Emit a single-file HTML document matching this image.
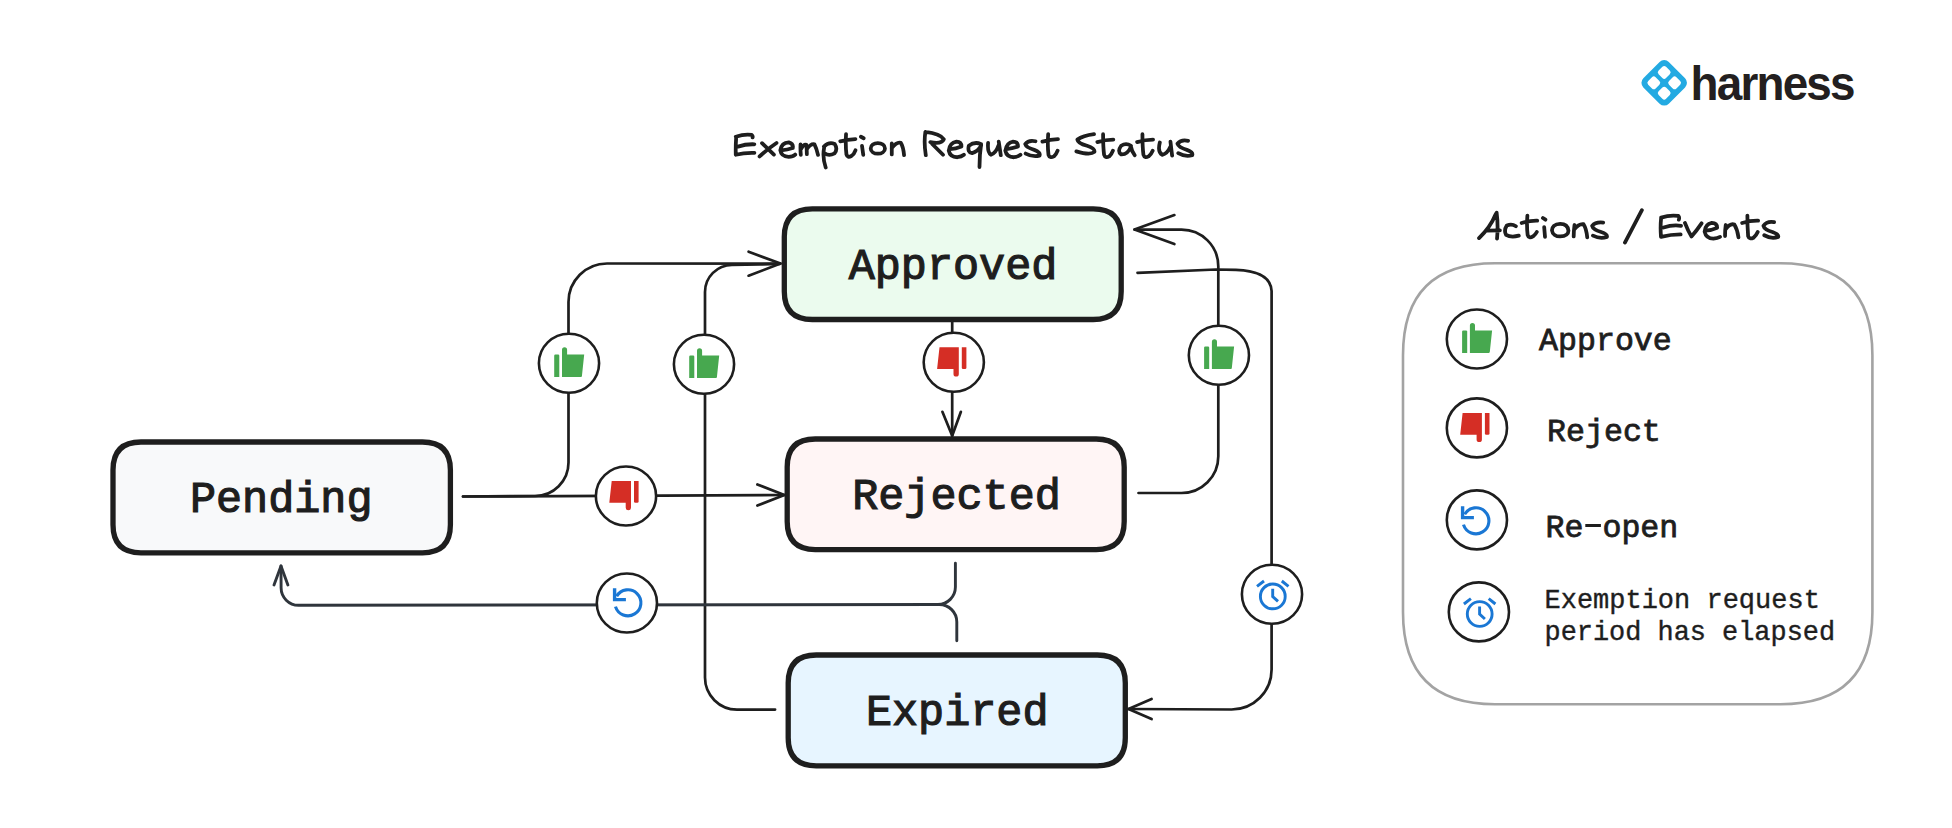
<!DOCTYPE html>
<html><head><meta charset="utf-8">
<style>
html,body{margin:0;padding:0;background:#fff;}
body{width:1952px;height:828px;overflow:hidden;}
svg{display:block;}
.mono{font-family:"Liberation Mono",monospace;}
.sans{font-family:"Liberation Sans",sans-serif;}
</style></head>
<body>
<svg width="1952" height="828" viewBox="0 0 1952 828">
<defs>
  <g id="up"><path d="M-14.8 -7.4 Q-14.8 -8.6 -13.6 -8.6 L-10.9 -8.6 Q-9.7 -8.6 -9.7 -7.4 L-9.7 13.9 L-14.8 13.9 Z"/><path d="M-7 13.9 L-7 -13.5 Q-7 -16 -4.45 -16 Q-1.9 -16 -1.9 -13.5 L-1.9 -8.6 L15.2 -8.6 L12.9 13.1 Q12.8 13.9 12 13.9 Z"/></g>
  <g id="down"><path d="M8 -15 L12.6 -15 L12.6 5.5 Q12.6 6.8 11.3 6.8 L9.3 6.8 Q8 6.8 8 5.5 Z"/><path d="M-14.3 -15 L5 -15 L5 11.6 Q5 14.2 2.35 14.2 Q-0.3 14.2 -0.3 11.6 L-0.3 6.8 L-16.7 6.8 Z"/></g>
  <g id="reopen"><path d="M-11.2 -6.6 A13 13 0 1 1 -12.42 3.83" fill="none" stroke-width="3.1"/><path d="M-15 -14.5 L-11.6 -14.5 L-11.6 -4.9 L-2 -4.9 L-2 -1.5 L-15 -1.5 Z" fill="#1a77d4" stroke="none"/></g>
  <g id="alarm" fill="none" stroke-width="2.9"><circle cx="0.8" cy="2.1" r="12.4"/><path d="M0.7 -5.5 L0.7 2.2 L6 7.1"/><path d="M-15 -7.9 L-8 -13.3 M9.8 -13.3 L16.5 -7.9"/></g>
</defs>
<!-- boxes -->
<path d="M141.0 442.0 L422.4 442.0 Q450.4 442.0 450.4 470.0 L450.4 524.8 Q450.4 552.8 422.4 552.8 L141.0 552.8 Q113.0 552.8 113.0 524.8 L113.0 470.0 Q113.0 442.0 141.0 442.0 Z" fill="#f8f9fa" stroke="#1e1e1e" stroke-width="5.3"/>
<path d="M812.3 208.8 L1093.2 208.8 Q1121.2 208.8 1121.2 236.8 L1121.2 291.5 Q1121.2 319.5 1093.2 319.5 L812.3 319.5 Q784.3 319.5 784.3 291.5 L784.3 236.8 Q784.3 208.8 812.3 208.8 Z" fill="#ebfbee" stroke="#1e1e1e" stroke-width="5.3"/>
<path d="M815.2 439.0 L1096.2 439.0 Q1124.2 439.0 1124.2 467.0 L1124.2 521.6 Q1124.2 549.6 1096.2 549.6 L815.2 549.6 Q787.2 549.6 787.2 521.6 L787.2 467.0 Q787.2 439.0 815.2 439.0 Z" fill="#fff5f5" stroke="#1e1e1e" stroke-width="5.3"/>
<path d="M816.2 655.0 L1097.3 655.0 Q1125.3 655.0 1125.3 683.0 L1125.3 737.8 Q1125.3 765.8 1097.3 765.8 L816.2 765.8 Q788.2 765.8 788.2 737.8 L788.2 683.0 Q788.2 655.0 816.2 655.0 Z" fill="#e7f5ff" stroke="#1e1e1e" stroke-width="5.3"/>
<path d="M1495.0 263.3 L1780.4 263.3 Q1872.4 263.3 1872.4 355.3 L1872.4 612.2 Q1872.4 704.2 1780.4 704.2 L1495.0 704.2 Q1403.0 704.2 1403.0 612.2 L1403.0 355.3 Q1403.0 263.3 1495.0 263.3 Z" fill="none" stroke="#a3a3a3" stroke-width="2.6"/>

<!-- lines -->
<g fill="none" stroke="#1e1e1e" stroke-width="2.7" stroke-linecap="round" stroke-linejoin="round">
  <path d="M463 496.5 L535 496 A33.5 33.5 0 0 0 568.5 462.5 L568.5 302 A38.5 38.5 0 0 1 607 263.5 L780.5 263.6"/>
  <path d="M748.6 251.7 L780.5 263.6 L748.6 275.7"/>
  <path d="M463 496.5 L784.4 495"/>
  <path d="M757.4 484.5 L784.4 495 L757.4 505.6"/>
  <path d="M775.1 709.6 L737 709.6 A32 32 0 0 1 705 677.6 L705 292 A27 27 0 0 1 732 265 L760 264.5 L780 263.8"/>
  <path d="M952.2 321 L952.2 435.7"/>
  <path d="M942.4 411.8 L952.2 435.7 L960.9 411.8"/>
  <path d="M1138.5 493 L1181.5 493 A36.8 36.8 0 0 0 1218.3 456.2 L1218.3 266.4 A36.8 36.8 0 0 0 1181.5 229.6 L1134.5 229.6"/>
  <path d="M1174.4 215.1 L1134.5 229.6 L1174.4 244.1"/>
  <path d="M1137.5 272.8 L1216 269.5 L1236 269.8 Q1270.5 271 1271.6 291 L1271.6 669.5 A40 40 0 0 1 1231.6 709.5 L1128.5 709"/>
  <path d="M1151.6 699 L1128.5 709 L1151.6 719.1"/>
</g>
<g fill="none" stroke="#2f353c" stroke-width="2.9" stroke-linecap="round" stroke-linejoin="round">
  <path d="M955.4 563.2 L955.4 587 A17.5 17.5 0 0 1 937.9 604.5 L298.6 605.3 A17.5 17.5 0 0 1 281.1 587.8 L281 566"/>
  <path d="M956.8 640.7 L956.8 622 A17.5 17.5 0 0 0 939.3 604.5"/>
  <path d="M274 585 L281 566 L287.9 585"/>
</g>
<!-- circles -->
<g fill="#fff" stroke="#1e1e1e" stroke-width="2.6">
  <ellipse cx="569" cy="363.2" rx="30.1" ry="29.5"/>
  <ellipse cx="704" cy="364.2" rx="30.1" ry="29.5"/>
  <ellipse cx="953.8" cy="362.3" rx="30.1" ry="29.5"/>
  <ellipse cx="1218.9" cy="355.2" rx="30.1" ry="29.5"/>
  <ellipse cx="626" cy="496" rx="30.1" ry="29.5"/>
  <ellipse cx="626.9" cy="603" rx="30.1" ry="29.5"/>
  <ellipse cx="1272" cy="594.3" rx="30.1" ry="29.5"/>
  <ellipse cx="1476.9" cy="339" rx="30.1" ry="29.5"/>
  <ellipse cx="1476.9" cy="427.9" rx="30.1" ry="29.5"/>
  <ellipse cx="1476.9" cy="519.9" rx="30.1" ry="29.5"/>
  <ellipse cx="1478.9" cy="611.9" rx="30.1" ry="29.5"/>
</g>
<!-- icons -->
<g fill="#47a84f">
  <use href="#up" x="569" y="363.2"/>
  <use href="#up" x="704" y="364.2"/>
  <use href="#up" x="1218.9" y="355.2"/>
  <use href="#up" x="1476.9" y="339"/>
</g>
<g fill="#d52e25">
  <use href="#down" x="953.8" y="362.3"/>
  <use href="#down" x="626" y="496"/>
  <use href="#down" x="1476.9" y="427.9"/>
</g>

<g stroke="#1a77d4">
  <use href="#reopen" x="627.9" y="602.8"/>
  <use href="#reopen" x="1475.9" y="520.8"/>
  <use href="#alarm" x="1272" y="594.3"/>
  <use href="#alarm" x="1478.9" y="611.9"/>
</g>
<!-- harness logo -->
<g transform="translate(1664.2 82.8) rotate(45)" fill="#23aae2"><path fill-rule="evenodd" d="M-11.50 -18.00 L11.50 -18.00 A6.5 6.5 0 0 1 18.00 -11.50 L18.00 11.50 A6.5 6.5 0 0 1 11.50 18.00 L-11.50 18.00 A6.5 6.5 0 0 1 -18.00 11.50 L-18.00 -11.50 A6.5 6.5 0 0 1 -11.50 -18.00 Z M-10.00 -12.60 L-4.70 -12.60 A2.6 2.6 0 0 1 -2.10 -10.00 L-2.10 -4.70 A2.6 2.6 0 0 1 -4.70 -2.10 L-10.00 -2.10 A2.6 2.6 0 0 1 -12.60 -4.70 L-12.60 -10.00 A2.6 2.6 0 0 1 -10.00 -12.60 Z M-10.00 2.10 L-4.70 2.10 A2.6 2.6 0 0 1 -2.10 4.70 L-2.10 10.00 A2.6 2.6 0 0 1 -4.70 12.60 L-10.00 12.60 A2.6 2.6 0 0 1 -12.60 10.00 L-12.60 4.70 A2.6 2.6 0 0 1 -10.00 2.10 Z M4.70 -12.60 L10.00 -12.60 A2.6 2.6 0 0 1 12.60 -10.00 L12.60 -4.70 A2.6 2.6 0 0 1 10.00 -2.10 L4.70 -2.10 A2.6 2.6 0 0 1 2.10 -4.70 L2.10 -10.00 A2.6 2.6 0 0 1 4.70 -12.60 Z M4.70 2.10 L10.00 2.10 A2.6 2.6 0 0 1 12.60 4.70 L12.60 10.00 A2.6 2.6 0 0 1 10.00 12.60 L4.70 12.60 A2.6 2.6 0 0 1 2.10 10.00 L2.10 4.70 A2.6 2.6 0 0 1 4.70 2.10 Z"/></g>
<!-- texts -->
<g class="mono" fill="#1e1e1e" font-size="43.9" stroke="#1e1e1e" stroke-width="1.2" text-anchor="middle">
  <text transform="translate(281.2 512) scale(0.99 1.02)">Pending</text>
  <text transform="translate(953 279) scale(0.99 1.02)">Approved</text>
  <text transform="translate(956.5 509) scale(0.99 1.02)">Rejected</text>
  <text transform="translate(957.2 725) scale(0.99 1.02)">Expired</text>
</g>
<g class="mono" fill="#1e1e1e" stroke="#1e1e1e" stroke-width="0.8">
  <text transform="translate(1539 349.7) scale(1.02 1.03)" font-size="31">Approve</text>
  <text transform="translate(1547 440.7) scale(1.02 1.03)" font-size="31">Reject</text>
  <text transform="translate(1545.5 536.9) scale(1.02 1.03)" font-size="31" xml:space="preserve">Re open</text>
  <rect x="1585.3" y="524" width="15.6" height="3" stroke="none"/>
  <text transform="translate(1544.5 607.6) scale(1.011 1.02)" font-size="26.7" stroke-width="0.4">Exemption request</text>
  <text transform="translate(1544.5 640.4) scale(1.008 1.02)" font-size="26.7" stroke-width="0.4">period has elapsed</text>
</g>
<path transform="translate(728 122) scale(0.08197)" fill="none" stroke="#1e1e1e" stroke-width="46" stroke-linecap="round" stroke-linejoin="round" d="M95 180 Q200 145 290 158 Q305 170 300 188 M100 180 Q92 300 95 400 M122 300 Q220 268 322 272 M95 400 Q200 372 322 376 M415 258 Q490 330 560 398 M592 256 Q480 330 385 420 M648 345 Q725 342 790 318 Q800 262 742 248 Q652 252 638 345 Q650 422 740 425 Q792 425 820 398 M885 272 Q882 340 888 400 M888 335 Q925 265 955 278 Q962 330 962 392 M962 330 Q1010 262 1055 272 Q1080 320 1098 402 M1172 318 Q1150 430 1192 555 M1170 300 Q1230 238 1302 268 Q1342 330 1300 382 Q1232 420 1180 382 M1440 148 Q1432 300 1445 395 Q1458 440 1505 415 Q1540 390 1555 345 M1370 236 Q1460 212 1555 208 M1622 180 L1655 198 M1635 292 L1650 400 M1828 257 C1780 257 1741 285 1741 322 C1741 360 1780 387 1828 387 C1876 387 1915 360 1915 322 C1915 285 1876 257 1828 257 Z M1998 262 L1998 395 M1998 320 Q2058 240 2108 255 Q2138 300 2148 405 M2408 120 Q2388 250 2413 405 M2408 120 Q2588 140 2633 210 Q2608 272 2468 245 M2488 265 L2623 400 M2708 330 Q2778 330 2848 300 Q2848 240 2788 240 Q2703 255 2693 350 Q2708 430 2798 430 Q2848 425 2878 400 M3088 270 Q3008 235 2938 290 Q2918 370 2978 380 Q3048 360 3088 290 M3088 270 Q3068 400 3068 550 M3173 255 Q3163 370 3208 400 Q3268 380 3298 290 M3303 240 L3328 405 M3398 330 Q3468 325 3538 300 Q3538 240 3478 240 Q3398 255 3383 350 Q3398 430 3488 430 Q3538 425 3568 400 M3751 235 Q3666 215 3626 270 Q3636 310 3736 340 Q3816 370 3801 410 Q3716 430 3631 385 M3906 148 Q3896 300 3910 400 Q3925 445 3975 420 Q4005 395 4021 350 M3836 240 Q3936 212 4026 210 M4466 148 Q4330 165 4262 215 Q4270 262 4380 290 Q4480 322 4470 365 Q4420 410 4250 358 M4576 148 Q4576 300 4588 400 Q4602 445 4650 420 Q4680 395 4696 350 M4506 245 Q4606 215 4701 215 M4916 290 Q4856 250 4796 290 Q4746 360 4796 395 Q4876 400 4916 300 Q4926 360 4961 405 M5056 148 Q5056 300 5068 400 Q5082 445 5130 420 Q5162 395 5181 350 M4991 245 Q5096 215 5186 215 M5268 250 Q5238 370 5298 400 Q5358 390 5398 300 M5398 240 Q5408 330 5418 410 M5613 230 Q5528 210 5483 265 Q5498 310 5598 340 Q5678 370 5663 405 Q5578 430 5493 380"/>
<path transform="translate(1470 200) scale(0.08197)" fill="none" stroke="#1e1e1e" stroke-width="46" stroke-linecap="round" stroke-linejoin="round" d="M110 465 Q250 330 310 180 L325 155 Q345 300 330 470 M200 375 Q290 370 365 370 M560 320 Q510 285 450 310 Q410 370 440 425 Q500 460 595 435 M700 190 Q690 320 703 425 Q718 475 768 445 Q800 420 815 390 M630 280 Q730 250 820 252 M890 220 L920 240 M905 330 L915 450 M1100 290 C1030 290 1000 330 1000 370 C1005 420 1050 445 1100 445 C1170 445 1205 410 1200 370 C1195 320 1160 290 1100 290 Z M1275 305 Q1265 380 1265 445 M1270 360 Q1330 285 1385 295 Q1420 350 1430 455 M1625 275 Q1530 265 1490 315 Q1500 360 1600 390 Q1680 415 1670 450 Q1590 480 1500 435 M1890 520 L2097 125 M2332 215 Q2440 180 2542 195 Q2558 215 2548 240 M2332 215 Q2320 330 2330 450 M2362 335 Q2470 300 2575 315 M2330 450 Q2450 420 2570 420 M2622 280 Q2660 380 2702 445 Q2760 380 2825 285 M2872 375 Q2950 370 3015 340 Q3015 280 2950 280 Q2870 295 2862 385 Q2880 470 2970 470 Q3020 465 3050 450 M3120 305 Q3110 380 3112 440 M3115 360 Q3175 280 3225 300 Q3262 360 3275 455 M3384 190 Q3384 330 3393 440 Q3408 485 3458 460 Q3492 432 3510 390 M3320 280 Q3420 250 3515 252 M3710 270 Q3620 255 3580 315 Q3590 360 3690 390 Q3770 420 3760 450 Q3680 480 3590 430"/>
<text class="sans" transform="translate(1690.6 99.5) scale(0.955 1.0)" font-size="48" font-weight="bold" fill="#231f20" letter-spacing="-1.9">harness</text>
</svg>
</body></html>
